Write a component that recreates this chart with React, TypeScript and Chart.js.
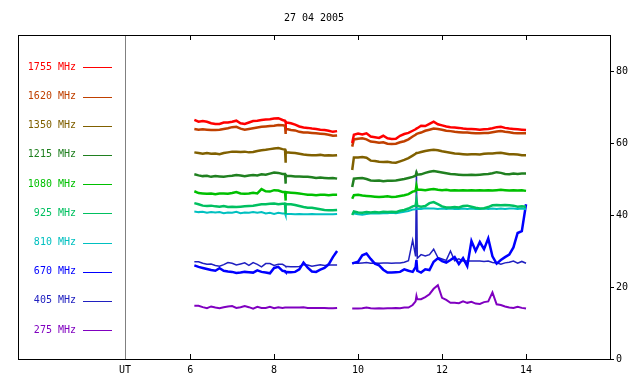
import React, { useEffect, useRef } from "react";
import { Chart, registerables } from "chart.js";
Chart.register(...registerables);

const TITLE = "27 04 2005";
const X_TICKS = [6, 8, 10, 12, 14];
const UT_POS = 4.45;
const UT_LABEL = "UT";
const Y_TICKS = [0, 20, 40, 60, 80];
const GAP_T = 9.7;

const T1 = [6.1, 6.2, 6.3, 6.4, 6.5, 6.6, 6.7, 6.8, 6.9, 7.0, 7.1, 7.2, 7.3, 7.4, 7.5, 7.6, 7.7, 7.8, 7.9, 8.0, 8.1, 8.2, 8.26, 8.27, 8.28, 8.3, 8.4, 8.5, 8.6, 8.7, 8.8, 8.9, 9.0, 9.1, 9.2, 9.3, 9.4, 9.5];
const T2 = [9.86, 9.9, 10.0, 10.1, 10.2, 10.3, 10.4, 10.5, 10.6, 10.7, 10.8, 10.9, 11.0, 11.1, 11.2, 11.3, 11.37, 11.39, 11.41, 11.5, 11.6, 11.7, 11.8, 11.9, 12.0, 12.1, 12.2, 12.3, 12.4, 12.5, 12.6, 12.7, 12.8, 12.9, 13.0, 13.1, 13.2, 13.3, 13.4, 13.5, 13.6, 13.7, 13.8, 13.9, 14.0];

const LABELS = ["1755 MHz", "1620 MHz", "1350 MHz", "1215 MHz", "1080 MHz", "925 MHz", "810 MHz", "670 MHz", "405 MHz", "275 MHz"];
const COLORS = ["#ff0000", "#c04000", "#806000", "#208020", "#00c000", "#00c060", "#00c0c0", "#0000ff", "#2020c0", "#8000c0"];

const S1755a = [66.4, 65.9, 66.1, 65.9, 65.5, 65.3, 65.3, 65.7, 65.7, 65.9, 66.2, 65.5, 65.3, 65.7, 66.1, 66.2, 66.4, 66.5, 66.6, 66.8, 66.9, 66.4, 66.2, 65.6, 65.9, 65.7, 65.5, 65.1, 64.6, 64.3, 64.2, 64.0, 63.9, 63.7, 63.6, 63.4, 63.1, 63.3];
const S1755b = [60.0, 62.3, 62.6, 62.4, 62.7, 61.8, 61.6, 61.4, 62.0, 61.3, 61.1, 61.2, 62.0, 62.5, 62.8, 63.4, 63.8, 64.0, 64.1, 64.8, 64.7, 65.3, 65.9, 65.2, 64.9, 64.6, 64.4, 64.3, 64.2, 64.0, 63.9, 63.9, 63.8, 63.7, 63.8, 63.9, 64.1, 64.4, 64.5, 64.2, 64.0, 63.9, 63.8, 63.7, 63.6];
const S1620a = [63.9, 63.7, 63.8, 63.7, 63.6, 63.6, 63.7, 63.9, 64.1, 64.4, 64.5, 64.0, 63.7, 63.9, 64.1, 64.3, 64.5, 64.6, 64.7, 64.8, 65.0, 64.9, 64.8, 62.5, 64.0, 63.9, 63.6, 63.5, 63.1, 62.9, 62.9, 62.8, 62.7, 62.6, 62.5, 62.3, 62.0, 62.1];
const S1620b = [59.0, 61.0, 61.2, 61.3, 61.0, 60.4, 60.3, 60.1, 60.2, 59.8, 59.7, 59.8, 60.2, 60.5, 61.0, 61.8, 62.3, 62.5, 62.6, 62.9, 63.4, 63.7, 64.0, 63.9, 63.7, 63.4, 63.3, 63.1, 63.0, 62.9, 62.9, 62.8, 62.7, 62.7, 62.8, 62.8, 63.0, 63.2, 63.3, 63.1, 63.0, 62.8, 62.7, 62.7, 62.7];
const S1350a = [57.4, 57.2, 57.0, 57.2, 57.0, 57.1, 56.9, 57.2, 57.4, 57.6, 57.6, 57.5, 57.6, 57.4, 57.5, 57.8, 58.0, 58.1, 58.3, 58.5, 58.6, 58.3, 58.2, 54.5, 57.5, 57.4, 57.3, 57.2, 57.0, 56.8, 56.7, 56.6, 56.6, 56.7, 56.5, 56.6, 56.5, 56.6];
const S1350b = [52.5, 56.0, 56.0, 56.1, 55.9, 55.1, 55.0, 54.8, 54.7, 54.8, 54.6, 54.5, 54.9, 55.3, 55.8, 56.5, 57.0, 57.2, 57.2, 57.5, 57.8, 58.0, 58.1, 58.0, 57.7, 57.5, 57.3, 57.1, 57.0, 56.9, 56.8, 56.9, 56.9, 56.8, 57.0, 57.1, 57.1, 57.2, 57.3, 57.1, 56.9, 56.9, 56.8, 56.6, 56.6];
const S1215a = [51.3, 51.0, 50.8, 50.9, 50.6, 50.8, 50.7, 50.6, 50.8, 50.9, 51.1, 51.0, 50.8, 51.0, 51.1, 51.0, 51.3, 51.2, 51.5, 51.8, 51.7, 51.4, 51.4, 48.7, 50.9, 50.9, 50.8, 50.7, 50.7, 50.6, 50.6, 50.5, 50.3, 50.4, 50.3, 50.2, 50.3, 50.1];
const S1215b = [47.8, 50.1, 50.2, 50.3, 50.0, 49.6, 49.5, 49.6, 49.4, 49.5, 49.5, 49.6, 49.8, 50.0, 50.3, 50.6, 50.9, 51.8, 51.2, 51.3, 51.7, 52.0, 52.2, 52.0, 51.8, 51.6, 51.4, 51.3, 51.2, 51.1, 51.1, 51.2, 51.1, 51.2, 51.3, 51.4, 51.6, 51.9, 51.7, 51.4, 51.3, 51.5, 51.4, 51.5, 51.5];
const S1080a = [46.6, 46.1, 46.0, 45.9, 46.0, 45.8, 46.0, 46.0, 45.9, 46.1, 46.4, 46.0, 45.9, 46.0, 46.2, 46.0, 47.2, 46.6, 46.5, 46.9, 46.8, 46.4, 46.4, 44.0, 46.3, 46.3, 46.2, 46.1, 46.0, 45.8, 45.6, 45.6, 45.5, 45.6, 45.6, 45.5, 45.6, 45.6];
const S1080b = [44.5, 45.5, 45.6, 45.4, 45.3, 45.2, 45.1, 45.0, 45.1, 45.2, 45.0, 45.1, 45.3, 45.5, 45.8, 46.5, 46.7, 48.1, 47.0, 47.0, 46.9, 47.1, 47.2, 47.0, 46.9, 47.0, 46.8, 46.9, 46.8, 46.9, 46.8, 46.9, 46.8, 46.9, 46.8, 46.9, 46.8, 46.9, 47.0, 46.9, 46.8, 46.9, 46.8, 46.9, 46.7];
const S925a = [43.3, 43.0, 42.6, 42.5, 42.6, 42.4, 42.3, 42.5, 42.2, 42.3, 42.2, 42.3, 42.4, 42.5, 42.6, 42.8, 43.0, 43.0, 43.1, 43.2, 43.0, 43.1, 43.1, 40.3, 43.1, 43.0, 43.0, 42.8, 42.5, 42.2, 42.0, 42.0, 41.8, 41.6, 41.4, 41.3, 41.3, 41.4];
const S925b = [40.0, 41.0, 40.7, 40.6, 40.8, 40.7, 40.8, 40.7, 40.9, 40.8, 40.9, 40.8, 41.2, 41.4, 41.8, 42.4, 42.6, 44.2, 42.5, 42.3, 42.5, 43.3, 43.6, 43.0, 42.4, 42.1, 42.1, 42.2, 42.1, 42.5, 42.6, 42.3, 42.0, 41.8, 41.9, 42.2, 42.7, 42.8, 42.7, 42.8, 42.7, 42.6, 42.3, 42.4, 42.3];
const S810a = [41.0, 40.8, 40.9, 40.6, 40.8, 40.7, 40.8, 40.5, 40.7, 40.6, 40.9, 40.5, 40.7, 40.6, 40.8, 40.6, 40.8, 40.4, 40.6, 40.3, 40.6, 40.4, 40.4, 39.9, 40.3, 40.3, 40.3, 40.2, 40.3, 40.2, 40.2, 40.3, 40.2, 40.2, 40.2, 40.2, 40.2, 40.3];
const S810b = [40.5, 40.4, 40.2, 40.1, 40.3, 40.4, 40.5, 40.4, 40.5, 40.5, 40.6, 40.5, 40.7, 40.9, 41.1, 41.5, 41.6, 41.8, 41.7, 41.7, 41.9, 41.8, 41.8, 41.7, 41.8, 41.7, 41.8, 41.7, 41.7, 41.8, 41.7, 41.8, 41.7, 41.7, 41.8, 41.7, 41.8, 41.7, 41.8, 41.7, 41.8, 41.8, 41.7, 41.8, 41.6];
const S670a = [26.0, 25.6, 25.3, 25.0, 24.7, 24.5, 25.2, 24.5, 24.3, 24.2, 23.9, 24.0, 24.2, 24.1, 24.0, 24.6, 24.2, 24.0, 23.8, 25.3, 25.6, 24.5, 24.4, 24.3, 24.2, 24.2, 24.1, 24.2, 24.9, 26.8, 25.4, 24.3, 24.2, 24.8, 25.3, 26.3, 28.3, 30.0];
const S670b = [26.5, 26.7, 27.0, 28.8, 29.3, 27.8, 26.5, 26.0, 24.8, 24.0, 24.0, 24.1, 24.2, 24.9, 24.5, 24.2, 25.5, 27.5, 24.5, 24.0, 24.9, 24.7, 27.0, 28.0, 27.2, 26.8, 27.5, 28.3, 26.4, 28.0, 25.8, 32.8, 30.0, 32.5, 30.5, 33.5, 28.5, 26.5, 27.5, 28.3, 29.0, 31.0, 35.0, 35.5, 43.0];
const S405a = [27.0, 27.0, 26.6, 26.3, 26.4, 26.0, 25.8, 26.2, 26.8, 26.6, 26.1, 26.4, 26.7, 26.0, 26.8, 26.3, 25.6, 26.5, 26.5, 26.0, 26.3, 26.3, 25.9, 25.8, 25.7, 25.7, 25.6, 25.6, 25.7, 26.2, 26.1, 25.8, 26.0, 26.2, 26.0, 26.1, 26.1, 26.1];
const S405b = [26.6, 26.7, 26.6, 26.7, 26.8, 26.6, 26.7, 26.6, 26.7, 26.7, 26.6, 26.7, 26.7, 26.9, 27.3, 33.0, 28.5, 52.3, 28.0, 29.0, 28.6, 29.0, 30.5, 28.2, 27.8, 27.4, 30.0, 27.3, 27.8, 27.2, 27.2, 27.2, 27.2, 27.2, 27.1, 27.2, 26.8, 26.7, 26.3, 26.7, 26.9, 27.2, 26.6, 27.1, 26.6];
const S275a = [14.8, 14.8, 14.4, 14.1, 14.6, 14.3, 14.1, 14.4, 14.6, 14.7, 14.2, 14.4, 14.7, 14.4, 14.0, 14.5, 14.2, 14.2, 14.5, 14.1, 14.4, 14.2, 14.3, 14.3, 14.3, 14.3, 14.3, 14.3, 14.3, 14.4, 14.2, 14.2, 14.2, 14.2, 14.2, 14.1, 14.1, 14.2];
const S275b = [14.0, 14.0, 14.0, 14.1, 14.3, 14.1, 14.0, 14.1, 14.0, 14.1, 14.1, 14.2, 14.1, 14.3, 14.3, 15.0, 16.0, 17.5, 16.6, 16.6, 17.2, 18.0, 19.5, 20.5, 17.0, 16.4, 15.6, 15.6, 15.5, 16.0, 15.6, 15.9, 15.4, 15.3, 15.8, 16.0, 18.5, 15.2, 15.0, 14.6, 14.3, 14.2, 14.5, 14.2, 14.0];

const SERIES_A = [S1755a, S1620a, S1350a, S1215a, S1080a, S925a, S810a, S670a, S405a, S275a];
const SERIES_B = [S1755b, S1620b, S1350b, S1215b, S1080b, S925b, S810b, S670b, S405b, S275b];
const WIDTHS = [2.5, 2.5, 2.5, 2.5, 2.5, 2.5, 2, 2.5, 1.5, 2];

const FONT = "DejaVu Sans Mono";

function buildData(a: number[], b: number[]) {
  return [
    ...T1.map((t, i) => ({ x: t, y: a[i] })),
    { x: GAP_T, y: null },
    ...T2.map((t, i) => ({ x: t, y: b[i] })),
  ];
}

const decorPlugin = {
  id: "decor",
  beforeDatasetsDraw(chart: any) {
    const { ctx, chartArea, scales } = chart;
    const px = Math.round(scales.x.getPixelForValue(UT_POS)) + 0.5;
    ctx.save();
    ctx.strokeStyle = "#808080";
    ctx.lineWidth = 1;
    ctx.beginPath();
    ctx.moveTo(px, chartArea.top);
    ctx.lineTo(px, chartArea.bottom);
    ctx.stroke();
    ctx.restore();
  },
  afterDraw(chart: any) {
    const { ctx, chartArea, scales } = chart;
    const { left, right, top, bottom } = chartArea;
    ctx.save();
    ctx.strokeStyle = "#000";
    ctx.lineWidth = 1;
    ctx.strokeRect(Math.round(left) + 0.5, Math.round(top) + 0.5, Math.round(right - left), Math.round(bottom - top));
    ctx.beginPath();
    X_TICKS.forEach((v) => {
      const x = Math.round(scales.x.getPixelForValue(v)) + 0.5;
      ctx.moveTo(x, top);
      ctx.lineTo(x, top + 5);
      ctx.moveTo(x, bottom);
      ctx.lineTo(x, bottom - 5);
    });
    ctx.stroke();
    ctx.fillStyle = "#000";
    ctx.font = `10px "${FONT}"`;
    ctx.textAlign = "center";
    ctx.textBaseline = "middle";
    ctx.fillText(TITLE, (left + right) / 2, 18);
    ctx.textAlign = "right";
    LABELS.forEach((lab, i) => {
      const y = top + 32.3 + i * 29.2;
      ctx.fillStyle = COLORS[i];
      ctx.fillText(lab, left + 58, y);
      ctx.strokeStyle = COLORS[i];
      ctx.beginPath();
      const yy = Math.round(y) + 0.5;
      ctx.moveTo(left + 65, yy);
      ctx.lineTo(left + 94, yy);
      ctx.stroke();
    });
    ctx.restore();
  },
};

export default function App() {
  const ref = useRef<HTMLCanvasElement>(null);
  useEffect(() => {
    if (!ref.current) return;
    const chart = new Chart(ref.current, {
      type: "line",
      data: {
        datasets: LABELS.map((lab, i) => ({
          label: lab,
          data: buildData(SERIES_A[i], SERIES_B[i]),
          borderColor: COLORS[i],
          backgroundColor: COLORS[i],
          borderWidth: WIDTHS[i],
          pointRadius: 0,
          tension: 0,
          spanGaps: false,
          fill: false,
        })) as any,
      },
      options: {
        animation: false,
        responsive: false,
        layout: { padding: { left: 18, top: 35, right: 0, bottom: 0 } },
        plugins: { legend: { display: false }, tooltip: { enabled: false }, title: { display: false } },
        scales: {
          x: {
            type: "linear",
            min: 1.9,
            max: 16,
            position: "bottom",
            grid: { display: false, drawTicks: false },
            border: { display: false },
            afterBuildTicks: (s: any) => {
              s.ticks = [UT_POS, ...X_TICKS].map((v) => ({ value: v }));
            },
            afterFit: (s: any) => {
              s.height = 25;
            },
            ticks: {
              autoSkip: false,
              maxRotation: 0,
              padding: 5,
              color: "#000",
              font: { family: FONT, size: 10 },
              callback: (v: any) => (v === UT_POS ? UT_LABEL : String(v)),
            },
          },
          y: {
            type: "linear",
            min: 0,
            max: 90,
            position: "right",
            grid: { drawOnChartArea: false, drawTicks: true, tickLength: 4, color: "#000" },
            border: { display: false },
            afterBuildTicks: (s: any) => {
              s.ticks = Y_TICKS.map((v) => ({ value: v }));
            },
            afterFit: (s: any) => {
              s.width = 30;
            },
            ticks: {
              padding: 2,
              color: "#000",
              font: { family: FONT, size: 10 },
            },
          },
        },
      },
      plugins: [decorPlugin],
    });
    return () => chart.destroy();
  }, []);
  return (
    <div style={{ position: "absolute", left: 0, top: 0, width: 640, height: 384, background: "#fff" }}>
      <canvas ref={ref} width={640} height={384} style={{ width: 640, height: 384 }} />
    </div>
  );
}
